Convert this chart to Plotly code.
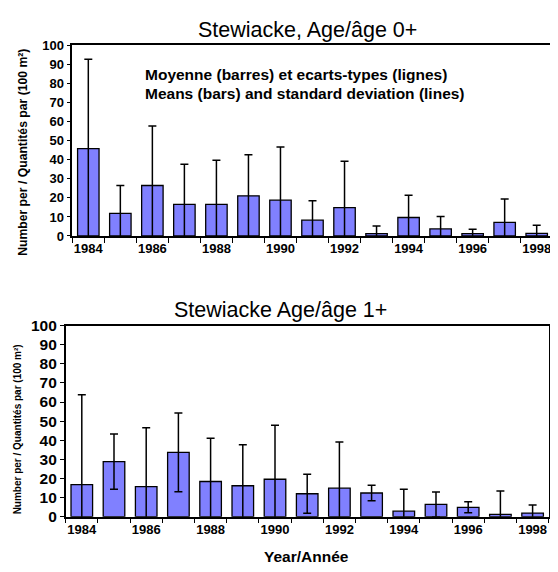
import plotly.graph_objects as go

years = [1984, 1985, 1986, 1987, 1988, 1989, 1990, 1991, 1992, 1993, 1994, 1995, 1996, 1997, 1998]
year_labels = ["1984", "1986", "1988", "1990", "1992", "1994", "1996", "1998"]

# Age 0+
means_0 = [45.8, 11.9, 26.5, 16.6, 16.6, 21.1, 18.8, 8.3, 14.9, 1.2, 9.7, 3.7, 1.2, 7.1, 1.4]
sd_0 = [46.9, 14.6, 31.2, 21.1, 23.1, 21.5, 27.9, 10.2, 24.3, 4.1, 11.7, 6.5, 2.4, 12.3, 4.2]

# Age 1+
means_1 = [16.8, 28.8, 15.7, 33.7, 18.4, 16.2, 19.6, 12.0, 14.9, 12.4, 2.9, 6.4, 4.9, 1.2, 1.9]
sd_1 = [47.0, 14.5, 30.8, 20.6, 22.7, 21.5, 28.3, 10.2, 24.2, 4.0, 11.5, 6.5, 2.9, 12.2, 4.2]

title_0 = "Stewiacke, Age/âge 0+"
title_1 = "Stewiacke Age/âge 1+"
note_fr = "Moyenne (barres) et ecarts-types (lignes)"
note_en = "Means (bars) and standard deviation (lines)"
ytitle = "Number per / Quantités par (100 m²)"
xtitle = "Year/Année"

W, H = 558, 572
OFF = 8  # page body margin
FONT = "Liberation Sans, Arial, sans-serif"
BAR = "#8080FF"


def px(x):
    return (x - OFF) / W


def py(y):
    return 1 - (y - OFF) / H


fig = go.Figure()

for means, sd, xa, ya in [(means_0, sd_0, "x", "y"), (means_1, sd_1, "x2", "y2")]:
    fig.add_trace(go.Bar(
        x=years, y=means, xaxis=xa, yaxis=ya, width=0.67,
        marker=dict(color=BAR, line=dict(color="#000000", width=1.3)),
        error_y=dict(type="data", array=sd, visible=True, color="#000000",
                     thickness=1.5, width=4),
        showlegend=False,
    ))

boundaries = [y - 0.5 for y in years] + [years[-1] + 0.5]
label_vals = [int(v) for v in year_labels]

common_x = dict(
    range=[years[0] - 0.5, years[-1] + 0.5], tickmode="array",
    tickvals=label_vals, ticktext=year_labels, ticks="",
    tickfont=dict(family=FONT, size=13, color="#000", weight="bold"),
    showline=True, linecolor="#000", linewidth=1.5, mirror=True,
    showgrid=False, zeroline=False,
    minor=dict(tickmode="array", tickvals=boundaries, ticks="outside",
               ticklen=5, tickcolor="#000", tickwidth=1, showgrid=False),
)
common_y = dict(
    range=[0, 100], tickmode="array", tickvals=list(range(0, 101, 10)),
    ticks="outside", ticklen=4, tickcolor="#000",
    showline=True, linecolor="#000", linewidth=1.5, mirror=True,
    showgrid=False, zeroline=False,
)

fig.update_layout(
    width=W, height=H, margin=dict(l=0, r=0, t=0, b=0),
    paper_bgcolor="white", plot_bgcolor="white",
    xaxis=dict(domain=[px(72.3), px(552.7)], anchor="y", **common_x),
    yaxis=dict(domain=[py(233.7), py(37.3)], anchor="x",
               tickfont=dict(family=FONT, size=13, color="#000", weight="bold"),
               **common_y),
    xaxis2=dict(domain=[px(65.7), px(548.7)], anchor="y2", **common_x),
    yaxis2=dict(domain=[py(523), py(326)], anchor="x2",
                tickfont=dict(family=FONT, size=15.5, color="#000", weight="bold"),
                **common_y),
)

anns = [
    dict(text=title_0, x=px(307), y=py(21), size=21.5, weight="normal", xanchor="center"),
    dict(text=title_1, x=px(280), y=py(310), size=21.5, weight="normal", xanchor="center"),
    dict(text=note_fr, x=px(142.7), y=py(67), size=15.5, weight="bold", xanchor="left"),
    dict(text=note_en, x=px(142.7), y=py(86.5), size=15.5, weight="bold", xanchor="left"),
    dict(text=xtitle, x=px(306), y=py(564), size=15.5, weight="bold", xanchor="center"),
]
for a in anns:
    fig.add_annotation(
        text=a["text"], x=a["x"], y=a["y"], xref="paper", yref="paper",
        xanchor=a["xanchor"], yanchor="middle", showarrow=False,
        font=dict(family=FONT, size=a["size"], color="#000", weight=a["weight"]),
    )

fig.add_annotation(text=ytitle, x=px(23), y=py(148), xref="paper", yref="paper",
                   textangle=-90, showarrow=False, xanchor="center", yanchor="middle",
                   font=dict(family=FONT, size=12.2, color="#000", weight="bold"))
fig.add_annotation(text=ytitle, x=px(17), y=py(433), xref="paper", yref="paper",
                   textangle=-90, showarrow=False, xanchor="center", yanchor="middle",
                   font=dict(family=FONT, size=10, color="#000", weight="bold"))

fig.write_html("out.html")
